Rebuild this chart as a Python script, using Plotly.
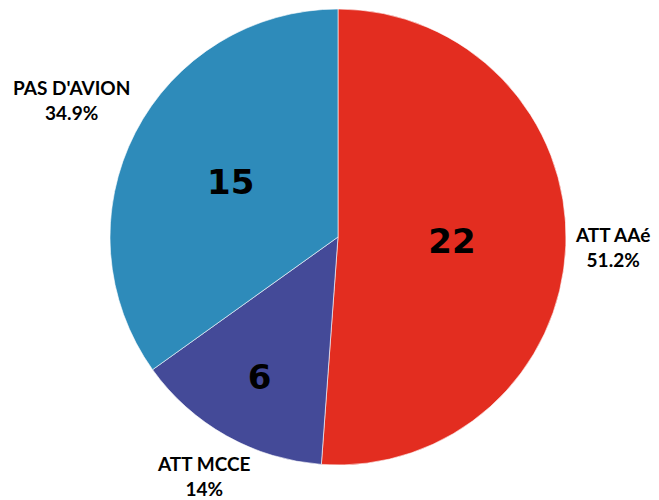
import math
import plotly.graph_objects as go

labels = ["ATT AAé", "ATT MCCE", "PAS D'AVION"]
values = [22, 6, 15]
colors = ["#E32D20", "#444A98", "#2E8BBA"]

W, H = 651, 492
ML, MR, MT, MB = 89, 80, 1, 35
PW, PH = W - ML - MR, H - MT - MB
R = min(PW, PH) / 2
LABEL_SIZE = 19
GAP = 6
LINE_H = 42

fig = go.Figure()
fig.add_trace(go.Pie(
    labels=labels, values=values, sort=False, direction="clockwise", rotation=0,
    marker=dict(colors=colors, line=dict(color="rgba(255,255,255,0.6)", width=1)),
    textinfo="value", textposition="inside", insidetextorientation="horizontal",
    textfont=dict(family="DejaVu Sans", size=34, color="black", weight="bold"),
    showlegend=False, hoverinfo="skip", automargin=False,
))

total = sum(values)
cum = 0
for lab, v in zip(labels, values):
    theta = 2 * math.pi * (cum + v / 2) / total
    cum += v
    pct = f"{100 * v / total:.3g}%"
    w = 0.6 * LABEL_SIZE * len(lab)
    ext = (w / 2) * abs(math.sin(theta)) + (LINE_H / 2) * abs(math.cos(theta))
    d = R + GAP + ext
    fig.add_annotation(
        x=0.5 + d * math.sin(theta) / PW, y=0.5 + d * math.cos(theta) / PH,
        xref="paper", yref="paper", xanchor="center", yanchor="middle",
        text=f"{lab}<br>{pct}", showarrow=False, align="center",
        font=dict(family="Lato", size=LABEL_SIZE, color="black", weight="bold"),
    )

fig.update_layout(
    width=W, height=H,
    margin=dict(l=ML, r=MR, t=MT, b=MB, autoexpand=False),
    paper_bgcolor="white", plot_bgcolor="white",
)
fig.write_html("out.html")
